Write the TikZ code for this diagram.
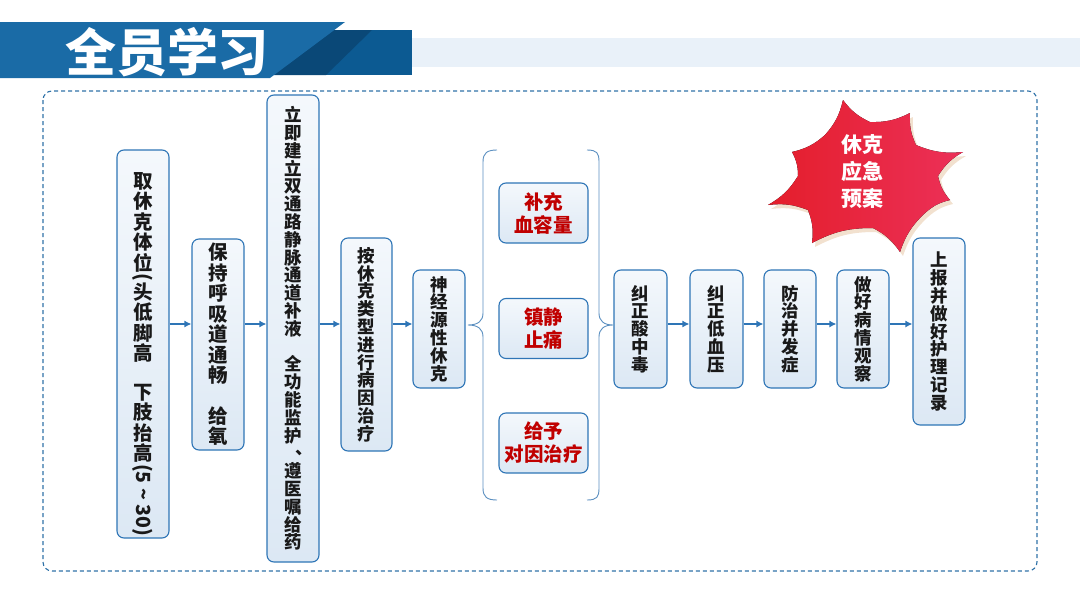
\documentclass[tikz,border=0pt]{standalone}
\usepackage{fontspec}
\setmainfont{Noto Sans CJK SC}
\usetikzlibrary{arrows.meta}
\definecolor{bordblue}{HTML}{2E75B6}
\definecolor{boxtop}{HTML}{F4F8FC}
\definecolor{boxbot}{HTML}{DCE8F4}
\definecolor{bandblue}{HTML}{1A6BA6}
\definecolor{banddark}{HTML}{0C5A92}
\definecolor{bandshadow}{HTML}{0A4877}
\definecolor{lightband}{HTML}{E9F1F9}
\definecolor{frameblue}{HTML}{2F72A8}
\definecolor{bracec}{HTML}{5B8FC0}
\definecolor{redtext}{HTML}{C00000}
\definecolor{starleft}{HTML}{E41E2B}
\definecolor{starright}{HTML}{EC3058}
\definecolor{starshadow}{HTML}{F2E1CF}
\begin{document}
\begin{tikzpicture}[x=1pt,y=-1pt,
  box/.style={draw=bordblue, line width=1.1pt, rounded corners=7pt,
    top color=boxtop, bottom color=boxbot, inner sep=0pt, align=center,
    text=black!90, font=\bfseries\fontsize{17.5}{17.8}\selectfont},
  bigbox/.style={box, font=\bfseries\fontsize{19.5}{20.5}\selectfont},
  vtext/.style={inner sep=0pt, align=center, text=black!90,
    font=\bfseries\fontsize{19.5}{20.5}\selectfont},
  rbox/.style={box, text=redtext, font=\bfseries\fontsize{19.5}{23}\selectfont,
    minimum width=89pt, minimum height=60pt},
  sbox/.style={box, minimum width=52pt, minimum height=118pt},
  arr/.style={draw=bordblue, line width=2pt, -{Latex[length=7pt,width=7pt]}},
  brace/.style={draw=bracec, line width=0.9pt},
  sb/.style={bend right=14}]
\useasboundingbox (0,0) rectangle (1080,608);
% header
\fill[lightband] (412,38) rectangle (1080,67);
\fill[banddark] (270,30) rectangle (412,75);
\fill[bandshadow] (334,30) -- (372,30) -- (326,75) -- (274,75) -- cycle;
\fill[bandblue] (0,22) -- (345,22) -- (270,78) -- (0,78) -- cycle;
\node[text=white, font=\bfseries\fontsize{51}{51}\selectfont] (title) at (167,52) {全员学习};
% dashed frame
\draw[frameblue, line width=1.1pt, dash pattern=on 4pt off 3pt, rounded corners=9pt]
  (43,91) rectangle (1037,571);
% starburst
\def\starpath{(843,100) to[sb] (870,122) to[sb] (910,113) to[sb] (916,145) to[sb] (963,152) to[sb] (938,176) to[sb] (950,200) to[sb] (925,213) to[sb] (900,252) to[sb] (873,228) to[sb] (812,243) to[sb] (808,210) to[sb] (768,205) to[sb] (798,176) to[sb] (792,152) to[sb] (825,135) to[sb] (843,100) -- cycle}
\begin{scope}[shift={(3pt,-4pt)}]
\fill[starshadow] \starpath;
\end{scope}
\fill[left color=starleft, right color=starright] \starpath;
\node[text=white, align=center, font=\bfseries\fontsize{21}{27}\selectfont] (star) at (862,172) {休克\\应急\\预案};
% main boxes
\node[bigbox, minimum width=52pt, minimum height=388pt] (b1) at (143,344) {};
\node[vtext, anchor=north] (b1t) at (143,172)
 {取\\休\\克\\体\\位\\[-17pt]\rotatebox{-90}{(}\\头\\低\\脚\\高\\[18pt]下\\肢\\抬\\高\\[-17pt]\rotatebox{-90}{(5 \textasciitilde{} 30)}};
\node[bigbox, minimum width=52pt, minimum height=211pt] (b2) at (218,344.5)
 {保\\持\\呼\\吸\\道\\通\\畅\\[20pt]给\\氧};
\node[box, minimum width=52pt, minimum height=467pt] (b3) at (293,328.5)
 {立\\即\\建\\立\\双\\通\\路\\静\\脉\\通\\道\\补\\液\\[17.8pt]全\\功\\能\\监\\护\\\makebox[1em][l]{\hspace{0.62em}\raisebox{0.3em}{、}}\\遵\\医\\嘱\\给\\药};
\node[box, minimum width=51pt, minimum height=213pt] (b4) at (366.5,344.5)
 {按\\休\\克\\类\\型\\进\\行\\病\\因\\治\\疗};
\node[sbox] (b5) at (439,329) {神\\经\\源\\性\\休\\克};
% red boxes
\node[rbox] (r1) at (543.5,213) {补充\\血容量};
\node[rbox] (r2) at (543.5,328.5) {镇静\\止痛};
\node[rbox] (r3) at (543.5,443) {给予\\对因治疗};
% right boxes
\node[sbox, minimum width=53pt] (b6) at (640.5,329) {纠\\正\\酸\\中\\毒};
\node[sbox, minimum width=53pt] (b7) at (716.5,329) {纠\\正\\低\\血\\压};
\node[sbox] (b8) at (790,329) {防\\治\\并\\发\\症};
\node[sbox] (b9) at (863,329) {做\\好\\病\\情\\观\\察};
\node[box, minimum width=52pt, minimum height=187pt] (b10) at (939,331.5)
 {上\\报\\并\\做\\好\\护\\理\\记\\录};
% arrows
\draw[arr] (b1.east |- 0,324) -- (b2.west |- 0,324);
\draw[arr] (b2.east |- 0,324) -- (b3.west |- 0,324);
\draw[arr] (b3.east |- 0,324) -- (b4.west |- 0,324);
\draw[arr] (b4.east |- 0,324) -- (b5.west |- 0,324);
\draw[arr] (b6.east |- 0,324) -- (b7.west |- 0,324);
\draw[arr] (b7.east |- 0,324) -- (b8.west |- 0,324);
\draw[arr] (b8.east |- 0,324) -- (b9.west |- 0,324);
\draw[arr] (b9.east |- 0,324) -- (b10.west |- 0,324);
% braces
\draw[brace] (497,150) .. controls (487,150) and (483,153) .. (483,162) -- (483,313)
  .. controls (483,321) and (478,325) .. (468,325)
  .. controls (478,325) and (483,329) .. (483,337) -- (483,488)
  .. controls (483,497) and (487,500) .. (497,500);
\draw[brace] (587,150) .. controls (597,150) and (599,153) .. (599,162) -- (599,313)
  .. controls (599,321) and (604,325) .. (613,325)
  .. controls (604,325) and (599,329) .. (599,337) -- (599,488)
  .. controls (599,497) and (597,500) .. (587,500);
\end{tikzpicture}
\end{document}
